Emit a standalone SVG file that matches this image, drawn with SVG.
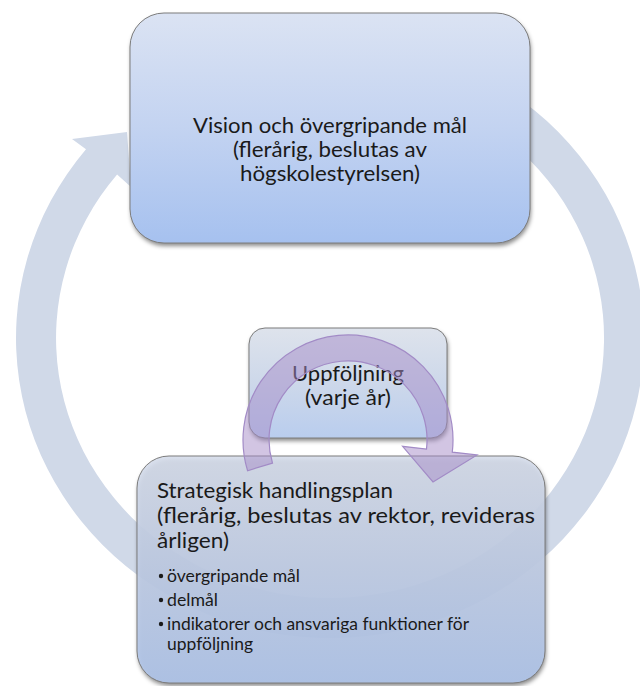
<svg xmlns="http://www.w3.org/2000/svg" width="640" height="686" viewBox="0 0 640 686">
  <style>
    .t { font-family: "Lato", "Liberation Sans", sans-serif; fill: #1a1a1a; }
    .title { font-size: 21.5px; }
    .bul { font-size: 17.5px; }
    .box { stroke: #7d7d7d; stroke-width: 1; }
    .shadow { fill: #000; fill-opacity: 0.45; filter: url(#blur); }
    .ring { fill: #d0d9e8; }
    .cyc { fill: #a58cc8; fill-opacity: 0.5; stroke: #a28bc6; stroke-width: 1.2; }
  </style>
  <defs>
    <filter id="blur" x="-10%" y="-10%" width="120%" height="120%">
      <feGaussianBlur stdDeviation="2.2"/>
    </filter>
    <linearGradient id="gTop" x1="0" y1="0" x2="0" y2="1">
      <stop offset="0" stop-color="#dbe3f3"/>
      <stop offset="0.5" stop-color="#c3d3f1"/>
      <stop offset="1" stop-color="#a6c1ef"/>
    </linearGradient>
    <linearGradient id="gMid" x1="0" y1="0" x2="0" y2="1">
      <stop offset="0" stop-color="#dee3ec"/>
      <stop offset="0.5" stop-color="#cdd8ea"/>
      <stop offset="1" stop-color="#b9cdee"/>
    </linearGradient>
    <linearGradient id="gBot" x1="0" y1="0" x2="0" y2="1">
      <stop offset="0" stop-color="#d7deec"/>
      <stop offset="0.5" stop-color="#c3d0e9"/>
      <stop offset="1" stop-color="#b0c6ec"/>
    </linearGradient>
  </defs>

  <g id="connector-main-cycle">
    <path class="ring" d="M 467.7,68.4 A 314 300 0 1 1 86.0,149.2 L 72,139 L 127,132 L 131,187 L 117.1,174.4 A 274 260 0 1 0 450.1,104.3 Z"/>
  </g>

  <g id="node-vision">
    <rect class="shadow" x="131" y="16" width="400" height="230" rx="34"/>
    <rect class="box" x="130" y="13" width="400" height="230" rx="34" fill="url(#gTop)"/>
    <text class="t title" text-anchor="middle" x="330" y="133" textLength="274" lengthAdjust="spacingAndGlyphs">Vision och övergripande mål</text>
    <text class="t title" text-anchor="middle" x="330" y="157" textLength="194" lengthAdjust="spacingAndGlyphs">(flerårig, beslutas av</text>
    <text class="t title" text-anchor="middle" x="330" y="181" textLength="180" lengthAdjust="spacingAndGlyphs">högskolestyrelsen)</text>
  </g>

  <g id="node-strategisk">
    <rect class="shadow" x="138" y="459" width="408" height="227" rx="32"/>
    <rect class="box" x="137" y="456" width="408" height="227" rx="32" fill="url(#gBot)" fill-opacity="0.9"/>
    <text class="t title" x="157" y="498" textLength="236" lengthAdjust="spacingAndGlyphs">Strategisk handlingsplan</text>
    <text class="t title" x="157" y="523" textLength="378" lengthAdjust="spacingAndGlyphs">(flerårig, beslutas av rektor, revideras</text>
    <text class="t title" x="157" y="548" textLength="72" lengthAdjust="spacingAndGlyphs">årligen)</text>
    <circle cx="161" cy="576" r="2.2" fill="#1a1a1a"/>
    <text class="t bul" x="167" y="582" textLength="133" lengthAdjust="spacingAndGlyphs">övergripande mål</text>
    <circle cx="161" cy="600" r="2.2" fill="#1a1a1a"/>
    <text class="t bul" x="167" y="606" textLength="51" lengthAdjust="spacingAndGlyphs">delmål</text>
    <circle cx="161" cy="624" r="2.2" fill="#1a1a1a"/>
    <text class="t bul" x="167" y="630" textLength="302" lengthAdjust="spacingAndGlyphs">indikatorer och ansvariga funktioner för</text>
    <text class="t bul" x="167" y="650" textLength="86" lengthAdjust="spacingAndGlyphs">uppföljning</text>
  </g>

  <g id="node-uppfoljning">
    <rect class="shadow" x="250" y="331" width="198" height="110" rx="16"/>
    <rect class="box" x="249" y="328" width="198" height="110" rx="16" fill="url(#gMid)"/>
    <text class="t title" text-anchor="middle" x="348" y="381" textLength="112" lengthAdjust="spacingAndGlyphs">Uppföljning</text>
    <text class="t title" text-anchor="middle" x="348" y="405" textLength="86" lengthAdjust="spacingAndGlyphs">(varje år)</text>
  </g>

  <g id="connector-followup-cycle">
    <path class="cyc" d="M 272.5,463.1 L 247.6,470.7 A 105 105 0 1 1 452.3,452.1 L 477.1,454.9 L 433,482 L 402.6,446.3 L 426.5,449.1 A 79 79 0 1 0 272.5,463.1 Z"/>
  </g>
</svg>
